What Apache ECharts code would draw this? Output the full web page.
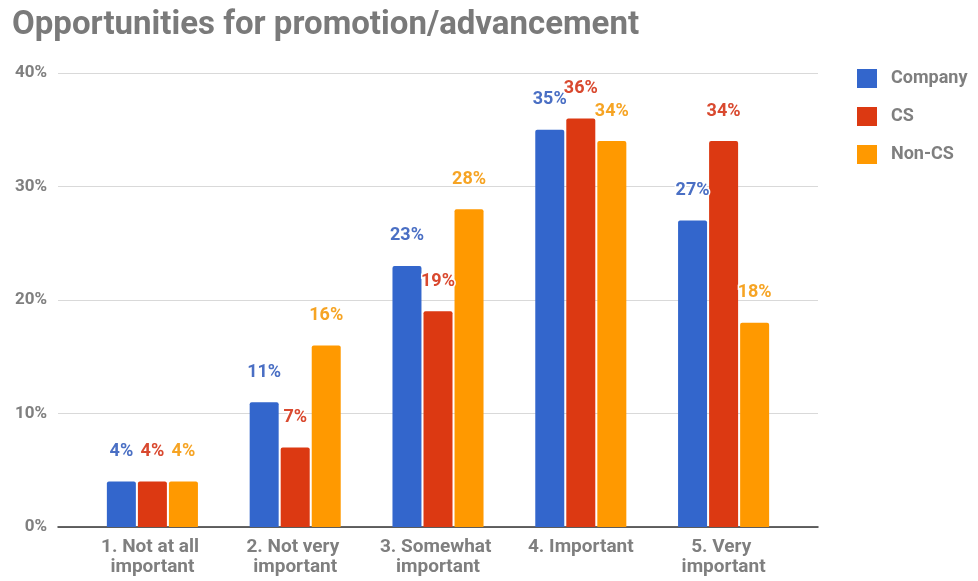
<!DOCTYPE html>
<html>
<head>
<meta charset="utf-8">
<script src="https://cdn.jsdelivr.net/npm/echarts@6/dist/echarts.min.js"></script>
<style>
  html, body { margin: 0; padding: 0; background: #ffffff; }
  #chart { width: 978px; height: 581px; }
</style>
</head>
<body>
<div id="chart"></div>
<script>
// Survey answers: how important are opportunities for promotion/advancement
const categories = [
  '1. Not at all important',
  '2. Not very important',
  '3. Somewhat important',
  '4. Important',
  '5. Very important'
];
const seriesNames = ['Company', 'CS', 'Non-CS'];
const companyValues = [4, 11, 23, 35, 27];
const csValues = [4, 7, 19, 36, 34];
const nonCsValues = [4, 16, 28, 34, 18];
const yTicks = [0, 10, 20, 30, 40];

const colors = ['#3366cc', '#dc3912', '#ff9900'];
const labelColors = ['#4a6fc4', '#d9492f', '#f6a424'];
const textGrey = '#7f7f7f';
const font = 'Roboto, "Noto Sans", Arial, sans-serif';

const chart = echarts.init(document.getElementById('chart'), null, { renderer: 'canvas' });

function barSeries(name, values, i) {
  return {
    name: name,
    type: 'bar',
    xAxisIndex: 1,
    yAxisIndex: 1,
    data: values,
    barWidth: 29,
    barGap: '7%',
    itemStyle: { color: colors[i], borderRadius: [2, 2, 0, 0] },
    label: {
      show: true,
      position: 'top',
      distance: 21,
      formatter: '{c}%',
      color: labelColors[i],
      fontFamily: font,
      fontWeight: 'bold',
      fontSize: 18,
      textBorderColor: '#ffffff',
      textBorderWidth: 3
    },
    emphasis: { disabled: true }
  };
}

chart.setOption({
  animation: false,
  backgroundColor: '#ffffff',
  color: colors,
  title: {
    text: 'Opportunities for promotion/advancement',
    left: 7,
    top: 4,
    textStyle: { fontFamily: font, fontSize: 33, fontWeight: 'bold', color: '#7a7a7a' }
  },
  legend: {
    data: seriesNames,
    orient: 'vertical',
    left: 852,
    top: 64,
    itemWidth: 20,
    itemHeight: 19,
    itemGap: 19,
    icon: 'rect',
    textStyle: { fontFamily: font, fontSize: 18, fontWeight: 'bold', color: textGrey, padding: [0, 0, 0, 9] }
  },
  grid: [
    // full-width frame carrying gridlines, value labels and baseline
    { left: 58, right: 160, top: 73, bottom: 54 },
    // inner band holding the grouped bars and category labels
    { left: 81, right: 183, top: 73, bottom: 54 }
  ],
  xAxis: [
    {
      type: 'category',
      gridIndex: 0,
      data: [''],
      axisLine: { show: true, lineStyle: { color: '#333333', width: 1.5 } },
      axisTick: { show: false },
      axisLabel: { show: false },
      splitLine: { show: false }
    },
    {
      type: 'category',
      gridIndex: 1,
      data: categories,
      axisLine: { show: false },
      axisTick: { show: false },
      axisLabel: {
        interval: 0,
        margin: 10,
        width: 126,
        overflow: 'break',
        lineHeight: 20,
        fontFamily: font,
        fontSize: 19,
        fontWeight: 'bold',
        color: textGrey
      }
    }
  ],
  yAxis: [
    {
      type: 'value',
      gridIndex: 0,
      min: yTicks[0],
      max: yTicks[yTicks.length - 1],
      interval: yTicks[1] - yTicks[0],
      axisLine: { show: false },
      axisTick: { show: false },
      axisLabel: {
        margin: 11,
        formatter: '{value}%',
        fontFamily: font,
        fontSize: 17,
        fontWeight: 'bold',
        color: textGrey
      },
      splitLine: { show: true, lineStyle: { color: '#d9d9d9', width: 1 } }
    },
    {
      type: 'value',
      gridIndex: 1,
      min: yTicks[0],
      max: yTicks[yTicks.length - 1],
      interval: yTicks[1] - yTicks[0],
      show: false,
      splitLine: { show: false }
    }
  ],
  series: [
    barSeries(seriesNames[0], companyValues, 0),
    barSeries(seriesNames[1], csValues, 1),
    barSeries(seriesNames[2], nonCsValues, 2)
  ]
});
</script>
</body>
</html>
